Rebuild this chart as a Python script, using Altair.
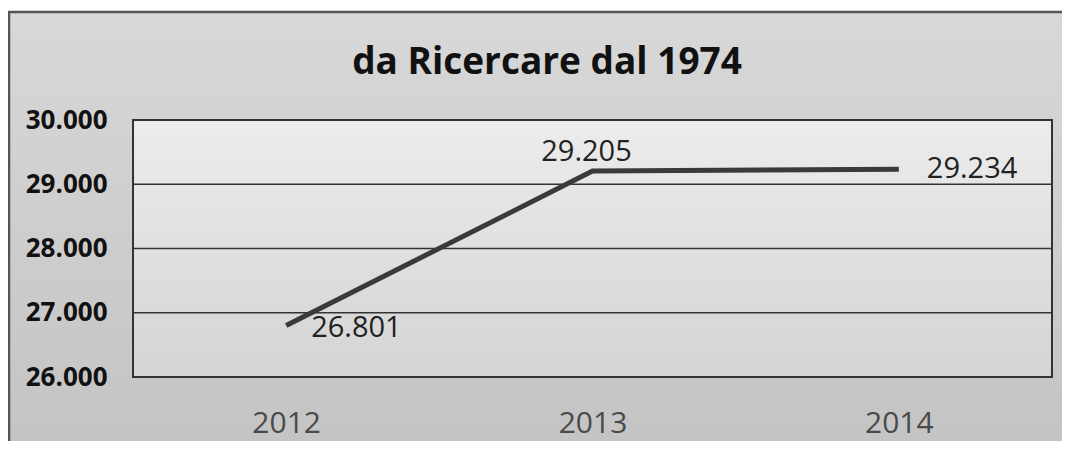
import altair as alt
import pandas as pd

years = ["2012", "2013", "2014"]
values = [26801, 29205, 29234]
title_text = "da Ricercare dal 1974"
y_ticks = [26000, 27000, 28000, 29000, 30000]

df = pd.DataFrame({"anno": years, "valore": values})
grid_df = pd.DataFrame({"v": y_ticks[1:-1]})

W, H = 919, 257
FONT = "Open Sans"

base = alt.Chart(df)

xenc = alt.X("anno:O", scale=alt.Scale(type="point", padding=0.5),
             axis=alt.Axis(title=None, labelAngle=0, labelFont=FONT, labelFontSize=30,
                           labelColor="#4a4a4a", labelPadding=31, ticks=False, domain=False,
                           grid=False, zindex=1))
yscale = alt.Scale(domain=[26000, 30000], nice=False, zero=False)
yenc = alt.Y("valore:Q", scale=yscale,
             axis=alt.Axis(title=None, values=y_ticks, labelFont=FONT, labelFontSize=26,
                           labelFontWeight="bold", labelColor="#111111", labelPadding=26,
                           labelExpr="replace(format(datum.value, ',.0f'), ',', '.')",
                           ticks=False, domain=False, grid=False, zindex=1))

frame = alt.Chart(pd.DataFrame({"a": [0]})).mark_rect(
    color=alt.Gradient(gradient="linear",
                       stops=[alt.GradientStop(color="#d8d8d8", offset=0),
                              alt.GradientStop(color="#c0c0c0", offset=1)],
                       x1=0, x2=0, y1=0, y2=1),
).encode(x=alt.value(-125), x2=alt.value(1000), y=alt.value(-108), y2=alt.value(400))

frame_top = alt.Chart(pd.DataFrame({"a": [0]})).mark_rule(
    color="#555555", strokeWidth=2.5
).encode(x=alt.value(-125), x2=alt.value(1000), y=alt.value(-108))
frame_left = alt.Chart(pd.DataFrame({"a": [0]})).mark_rule(
    color="#555555", strokeWidth=2.5
).encode(x=alt.value(-124), y=alt.value(-108), y2=alt.value(400))

plot_bg = alt.Chart(pd.DataFrame({"a": [0]})).mark_rect(
    color=alt.Gradient(gradient="linear",
                       stops=[alt.GradientStop(color="#ececec", offset=0),
                              alt.GradientStop(color="#d4d4d4", offset=1)],
                       x1=0, x2=0, y1=0, y2=1),
).encode(x=alt.value(0), x2=alt.value(W), y=alt.value(0), y2=alt.value(H))

grid = alt.Chart(grid_df).mark_rule(color="#333333", strokeWidth=1.5).encode(
    y=alt.Y("v:Q", scale=yscale), x=alt.value(0), x2=alt.value(W))

border = alt.Chart(pd.DataFrame({"a": [0]})).mark_rect(
    fill=None, stroke="#333333", strokeWidth=2
).encode(x=alt.value(0), x2=alt.value(W), y=alt.value(0), y2=alt.value(H))

line = base.mark_line(color="#3a3a3a", strokeWidth=5).encode(x=xenc, y=yenc)

lbl = base.transform_calculate(
    txt="replace(format(datum.valore, ',.0f'), ',', '.')"
)
lab_fmt = dict(font=FONT, fontSize=29, color="#222222")

t1 = lbl.transform_filter(alt.datum.anno == "2012").mark_text(
    align="left", baseline="middle", dx=25, dy=2, **lab_fmt
).encode(x="anno:O", y="valore:Q", text="txt:N")
t2 = lbl.transform_filter(alt.datum.anno == "2013").mark_text(
    align="center", baseline="bottom", dx=-6, dy=-4, **lab_fmt
).encode(x="anno:O", y="valore:Q", text="txt:N")
t3 = lbl.transform_filter(alt.datum.anno == "2014").mark_text(
    align="left", baseline="middle", dx=28, dy=0, **lab_fmt
).encode(x="anno:O", y="valore:Q", text="txt:N")

title = alt.Chart(pd.DataFrame({"t": [title_text]})).mark_text(
    font=FONT, fontSize=37, fontWeight="bold", color="#111111",
    align="center", baseline="alphabetic"
).encode(x=alt.value(414), y=alt.value(-46), text="t:N")

chart = alt.layer(frame, frame_top, frame_left, plot_bg, grid, line, t1, t2, t3,
                  border, title).properties(
    width=W, height=H,
    autosize=alt.AutoSizeParams(type="none"),
    padding={"left": 125, "top": 112, "right": 10, "bottom": 64},
    background="white",
).configure_view(stroke=None)

chart.save("out.html", embed_options={"renderer": "svg", "actions": False})
